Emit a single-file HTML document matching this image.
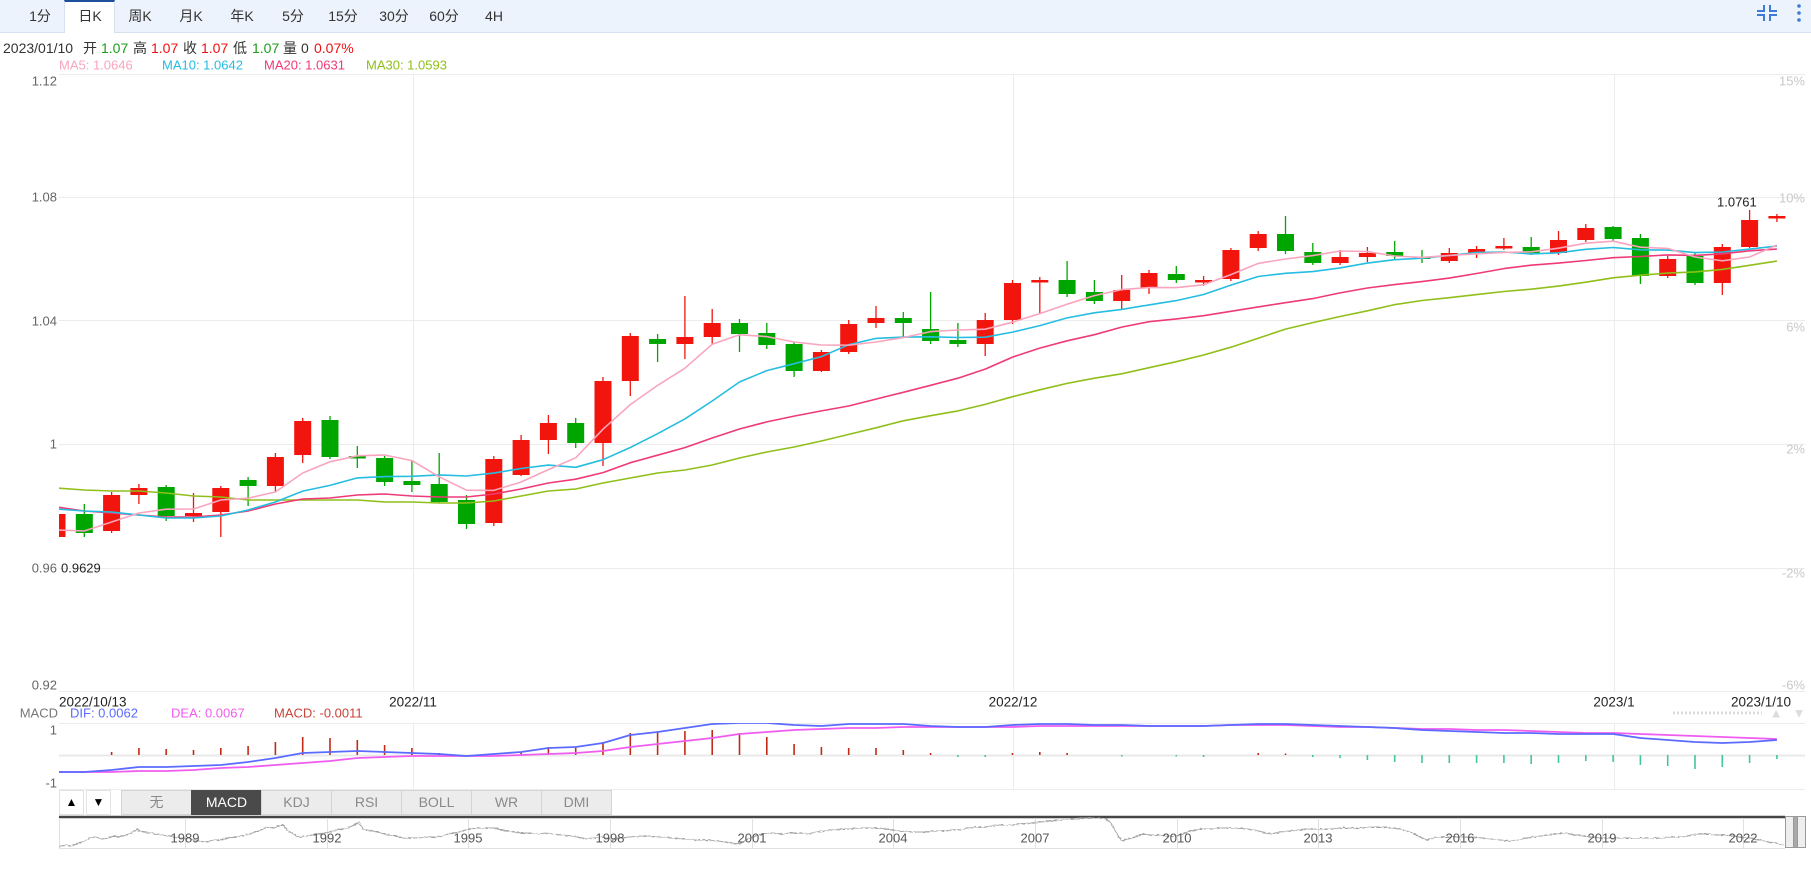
<!DOCTYPE html>
<html><head><meta charset="utf-8">
<style>
html,body{margin:0;padding:0;background:#fff;}
body{width:1811px;height:883px;position:relative;overflow:hidden;font-family:"Liberation Sans","Noto Sans CJK SC",sans-serif;}
.bar{position:absolute;left:0;top:0;width:1811px;height:32px;background:#edf3fc;border-bottom:1px solid #d6e0ef;}
.tab{position:absolute;top:0;height:32px;line-height:32px;font-size:14px;color:#333;transform:translateX(-50%);white-space:nowrap;}
.act{position:absolute;left:64px;top:0;width:49px;height:31px;background:#fff;border-top:2px solid #1c4f9c;border-left:1px solid #d6e0ef;border-right:1px solid #d6e0ef;}
.btn{position:absolute;top:790px;height:23px;line-height:23px;text-align:center;font-size:12px;border:1px solid #e2e2e2;background:#fff;color:#000;}
.ind{position:absolute;top:790px;height:23px;line-height:23px;width:69px;text-align:center;font-size:14px;color:#8a8a8a;background:#ececec;border:1px solid #d4d4d4;box-sizing:content-box;}
</style></head>
<body>
<div class="bar"></div>
<div class="act"></div>
<span class="tab" style="left:40px">1分</span>
<span class="tab" style="left:90px">日K</span>
<span class="tab" style="left:140px">周K</span>
<span class="tab" style="left:191px">月K</span>
<span class="tab" style="left:242px">年K</span>
<span class="tab" style="left:293px">5分</span>
<span class="tab" style="left:343px">15分</span>
<span class="tab" style="left:394px">30分</span>
<span class="tab" style="left:444px">60分</span>
<span class="tab" style="left:494px">4H</span>

<div class="btn" style="left:59px;width:23px;">▲</div>
<div class="btn" style="left:86px;width:23px;">▼</div>
<div class="ind" style="left:121px">无</div>
<div class="ind" style="left:191px;background:#4a4a4a;color:#fff;border-color:#4a4a4a">MACD</div>
<div class="ind" style="left:261px">KDJ</div>
<div class="ind" style="left:331px">RSI</div>
<div class="ind" style="left:401px">BOLL</div>
<div class="ind" style="left:471px">WR</div>
<div class="ind" style="left:541px">DMI</div>

<svg width="1811" height="883" style="position:absolute;left:0;top:0" xmlns="http://www.w3.org/2000/svg" font-family="Liberation Sans, Noto Sans CJK SC, sans-serif">
<defs>
<clipPath id="cp"><rect x="59" y="74" width="1746" height="617"/></clipPath>
<clipPath id="cm"><rect x="59" y="723" width="1746" height="66"/></clipPath>
<filter id="jit" x="-1%" y="-50%" width="102%" height="200%"><feTurbulence type="fractalNoise" baseFrequency="0.35 0.9" numOctaves="1" seed="3"/><feDisplacementMap in="SourceGraphic" scale="3" xChannelSelector="R" yChannelSelector="G"/></filter>
</defs>

<!-- top-right icons -->
<g stroke="#3d7bd6" stroke-width="2" fill="none">
<path d="M1764,5 V11 H1757"/><path d="M1770,5 V11 H1777"/><path d="M1757,15 H1764 V21"/><path d="M1777,15 H1770 V21"/>
</g>
<g fill="#3d7bd6"><circle cx="1799" cy="6" r="1.8"/><circle cx="1799" cy="13" r="1.8"/><circle cx="1799" cy="20" r="1.8"/></g>

<!-- info line -->
<g font-size="14" dominant-baseline="central">
<text x="3" y="48" fill="#333">2023/01/10</text>
<text x="83" y="48" fill="#333">开</text>
<text x="101" y="48" fill="#1a9e1a">1.07</text>
<text x="133" y="48" fill="#333">高</text>
<text x="151" y="48" fill="#ee1111">1.07</text>
<text x="183" y="48" fill="#333">收</text>
<text x="201" y="48" fill="#ee1111">1.07</text>
<text x="233" y="48" fill="#333">低</text>
<text x="252" y="48" fill="#1a9e1a">1.07</text>
<text x="283" y="48" fill="#333">量</text>
<text x="301" y="48" fill="#333">0</text>
<text x="314" y="48" fill="#ee1111">0.07%</text>
</g>
<g font-size="13" dominant-baseline="central">
<text x="59" y="65" fill="#f8a5bd">MA5: 1.0646</text>
<text x="162" y="65" fill="#25bde0">MA10: 1.0642</text>
<text x="264" y="65" fill="#ee3a78">MA20: 1.0631</text>
<text x="366" y="65" fill="#90bf1a">MA30: 1.0593</text>
</g>

<!-- grid -->
<g stroke="#ececec" stroke-width="1">
<line x1="59" y1="74.5" x2="1805" y2="74.5"/>
<line x1="59" y1="197.5" x2="1805" y2="197.5"/>
<line x1="59" y1="320.5" x2="1805" y2="320.5"/>
<line x1="59" y1="444.5" x2="1805" y2="444.5"/>
<line x1="59" y1="568.5" x2="1805" y2="568.5"/>
<line x1="59" y1="691.5" x2="1805" y2="691.5"/>
<line x1="413.5" y1="74" x2="413.5" y2="691"/>
<line x1="1013.5" y1="74" x2="1013.5" y2="691"/>
<line x1="1614.5" y1="74" x2="1614.5" y2="691"/>
<line x1="413.5" y1="723" x2="413.5" y2="789"/>
<line x1="1013.5" y1="723" x2="1013.5" y2="789"/>
<line x1="1614.5" y1="723" x2="1614.5" y2="789"/>
<line x1="59" y1="723.5" x2="1805" y2="723.5"/>
<line x1="59" y1="789.5" x2="1805" y2="789.5"/>
</g>
<line x1="59" y1="755.5" x2="1805" y2="755.5" stroke="#e9e9e9" stroke-width="2"/>

<!-- axis labels -->
<g font-size="13" fill="#666" text-anchor="end" dominant-baseline="central">
<text x="57" y="81">1.12</text>
<text x="57" y="197">1.08</text>
<text x="57" y="321">1.04</text>
<text x="57" y="444">1</text>
<text x="57" y="568">0.96</text>
<text x="57" y="685">0.92</text>
<text x="57" y="730">1</text>
<text x="57" y="783">-1</text>
</g>
<g font-size="13" fill="#c8c8c8" text-anchor="end" dominant-baseline="central">
<text x="1805" y="81">15%</text>
<text x="1805" y="198">10%</text>
<text x="1805" y="327">6%</text>
<text x="1805" y="449">2%</text>
<text x="1805" y="573">-2%</text>
<text x="1805" y="685">-6%</text>
</g>
<g font-size="13.5" fill="#222" dominant-baseline="central">
<text x="59" y="702">2022/10/13</text>
<text x="413" y="702" text-anchor="middle">2022/11</text>
<text x="1013" y="702" text-anchor="middle">2022/12</text>
<text x="1614" y="702" text-anchor="middle">2023/1</text>
<text x="1791" y="702" text-anchor="end">2023/1/10</text>
</g>
<g font-size="13" dominant-baseline="central">
<text x="58" y="713" fill="#777" text-anchor="end">MACD</text>
<text x="70" y="713" fill="#5b6bff">DIF: 0.0062</text>
<text x="171" y="713" fill="#f05cf0">DEA: 0.0067</text>
<text x="274" y="713" fill="#c8433a">MACD: -0.0011</text>
</g>
<line x1="1673" y1="713" x2="1762" y2="713" stroke="#dcdcdc" stroke-width="3" stroke-dasharray="2 2"/>
<text x="1776" y="713" font-size="13" fill="#dcdcdc" text-anchor="middle" dominant-baseline="central">▲</text>
<text x="1799" y="713" font-size="13" fill="#dcdcdc" text-anchor="middle" dominant-baseline="central">▼</text>

<g clip-path="url(#cp)">
<!-- red candles -->
<g fill="#f2150d" stroke="#f2150d">
<g stroke-width="1.3">
<line x1="57" y1="512" x2="57" y2="538"/><line x1="111.6" y1="492" x2="111.6" y2="533"/><line x1="138.9" y1="484" x2="138.9" y2="504"/><line x1="193.5" y1="493" x2="193.5" y2="522"/><line x1="220.8" y1="486" x2="220.8" y2="537"/><line x1="275.4" y1="453" x2="275.4" y2="492"/><line x1="302.7" y1="418" x2="302.7" y2="463"/><line x1="493.8" y1="456" x2="493.8" y2="526"/><line x1="521.1" y1="435" x2="521.1" y2="476"/><line x1="548.4" y1="415" x2="548.4" y2="454"/><line x1="603" y1="377" x2="603" y2="466"/><line x1="630.3" y1="333" x2="630.3" y2="396"/><line x1="684.9" y1="296" x2="684.9" y2="359"/><line x1="712.2" y1="309" x2="712.2" y2="344"/><line x1="821.4" y1="350" x2="821.4" y2="372"/><line x1="848.7" y1="320" x2="848.7" y2="354"/><line x1="876" y1="306" x2="876" y2="328"/><line x1="985.2" y1="313" x2="985.2" y2="356"/><line x1="1012.5" y1="280" x2="1012.5" y2="324"/><line x1="1039.8" y1="277" x2="1039.8" y2="313"/><line x1="1121.7" y1="275" x2="1121.7" y2="309"/><line x1="1149" y1="270" x2="1149" y2="294"/><line x1="1203.6" y1="276" x2="1203.6" y2="286"/><line x1="1230.9" y1="248" x2="1230.9" y2="281"/><line x1="1258.2" y1="231" x2="1258.2" y2="251"/><line x1="1340.1" y1="250" x2="1340.1" y2="265"/><line x1="1367.4" y1="247" x2="1367.4" y2="262"/><line x1="1449.3" y1="248" x2="1449.3" y2="263"/><line x1="1476.6" y1="246" x2="1476.6" y2="258"/><line x1="1503.9" y1="238" x2="1503.9" y2="250"/><line x1="1558.5" y1="231" x2="1558.5" y2="255"/><line x1="1585.8" y1="224" x2="1585.8" y2="242"/><line x1="1667.7" y1="256" x2="1667.7" y2="278"/><line x1="1722.3" y1="244" x2="1722.3" y2="295"/><line x1="1749.6" y1="210" x2="1749.6" y2="248"/><line x1="1776.9" y1="214" x2="1776.9" y2="222"/>
</g>
<g stroke="none">
<rect x="48.5" y="514" width="17" height="23"/><rect x="103.1" y="495" width="17" height="36"/><rect x="130.4" y="488" width="17" height="7"/><rect x="185" y="513" width="17" height="3"/><rect x="212.3" y="488" width="17" height="24"/><rect x="266.9" y="457" width="17" height="29"/><rect x="294.2" y="421" width="17" height="34"/><rect x="485.3" y="459" width="17" height="64"/><rect x="512.6" y="440" width="17" height="35"/><rect x="539.9" y="423" width="17" height="17"/><rect x="594.5" y="381" width="17" height="62"/><rect x="621.8" y="336" width="17" height="45"/><rect x="676.4" y="337" width="17" height="7"/><rect x="703.7" y="323" width="17" height="14"/><rect x="812.9" y="352" width="17" height="19"/><rect x="840.2" y="324" width="17" height="28"/><rect x="867.5" y="318" width="17" height="5"/><rect x="976.7" y="320" width="17" height="24"/><rect x="1004" y="283" width="17" height="37"/><rect x="1031.3" y="280" width="17" height="2.5"/><rect x="1113.2" y="290" width="17" height="11"/><rect x="1140.5" y="273" width="17" height="15"/><rect x="1195.1" y="280" width="17" height="2.5"/><rect x="1222.4" y="250" width="17" height="29"/><rect x="1249.7" y="234" width="17" height="14"/><rect x="1331.6" y="257" width="17" height="6"/><rect x="1358.9" y="253" width="17" height="4"/><rect x="1440.8" y="253" width="17" height="8"/><rect x="1468.1" y="249" width="17" height="4"/><rect x="1495.4" y="246" width="17" height="2.5"/><rect x="1550" y="240" width="17" height="13"/><rect x="1577.3" y="228" width="17" height="12"/><rect x="1659.2" y="259" width="17" height="17"/><rect x="1713.8" y="247" width="17" height="36"/><rect x="1741.1" y="220" width="17" height="27"/><rect x="1768.4" y="216" width="17" height="2.5"/>
</g>
</g>
<!-- green candles -->
<g fill="#00a600" stroke="#00a600">
<g stroke-width="1.3">
<line x1="84.3" y1="504" x2="84.3" y2="537"/><line x1="166.2" y1="485" x2="166.2" y2="521"/><line x1="248.1" y1="477" x2="248.1" y2="506"/><line x1="330" y1="416" x2="330" y2="459"/><line x1="357.3" y1="446" x2="357.3" y2="468"/><line x1="384.6" y1="456" x2="384.6" y2="486"/><line x1="411.9" y1="460" x2="411.9" y2="492"/><line x1="439.2" y1="453" x2="439.2" y2="503"/><line x1="466.5" y1="495" x2="466.5" y2="529"/><line x1="575.7" y1="418" x2="575.7" y2="448"/><line x1="657.6" y1="334" x2="657.6" y2="362"/><line x1="739.5" y1="319" x2="739.5" y2="352"/><line x1="766.8" y1="323" x2="766.8" y2="349"/><line x1="794.1" y1="342" x2="794.1" y2="377"/><line x1="903.3" y1="312" x2="903.3" y2="337"/><line x1="930.6" y1="292" x2="930.6" y2="344"/><line x1="957.9" y1="323" x2="957.9" y2="347"/><line x1="1067.1" y1="261" x2="1067.1" y2="297"/><line x1="1094.4" y1="280" x2="1094.4" y2="304"/><line x1="1176.3" y1="266" x2="1176.3" y2="283"/><line x1="1285.5" y1="216" x2="1285.5" y2="254"/><line x1="1312.8" y1="243" x2="1312.8" y2="265"/><line x1="1394.7" y1="241" x2="1394.7" y2="260"/><line x1="1422" y1="250" x2="1422" y2="263"/><line x1="1531.2" y1="237" x2="1531.2" y2="255"/><line x1="1613.1" y1="226" x2="1613.1" y2="242"/><line x1="1640.4" y1="234" x2="1640.4" y2="284"/><line x1="1695" y1="252" x2="1695" y2="285"/>
</g>
<g stroke="none">
<rect x="75.8" y="514" width="17" height="19"/><rect x="157.7" y="487" width="17" height="29"/><rect x="239.6" y="480" width="17" height="6"/><rect x="321.5" y="420" width="17" height="37"/><rect x="348.8" y="456" width="17" height="2.5"/><rect x="376.1" y="458" width="17" height="24"/><rect x="403.4" y="481" width="17" height="4"/><rect x="430.7" y="484" width="17" height="18"/><rect x="458" y="500" width="17" height="24"/><rect x="567.2" y="423" width="17" height="20"/><rect x="649.1" y="339" width="17" height="5"/><rect x="731" y="323" width="17" height="11"/><rect x="758.3" y="333" width="17" height="12"/><rect x="785.6" y="344" width="17" height="27"/><rect x="894.8" y="318" width="17" height="5"/><rect x="922.1" y="329" width="17" height="12"/><rect x="949.4" y="340" width="17" height="4"/><rect x="1058.6" y="280" width="17" height="14"/><rect x="1085.9" y="292" width="17" height="9"/><rect x="1167.8" y="274" width="17" height="6"/><rect x="1277" y="234" width="17" height="17"/><rect x="1304.3" y="252" width="17" height="11"/><rect x="1386.2" y="252" width="17" height="4"/><rect x="1413.5" y="257" width="17" height="2"/><rect x="1522.7" y="247" width="17" height="6"/><rect x="1604.6" y="227" width="17" height="12"/><rect x="1631.9" y="238" width="17" height="38"/><rect x="1686.5" y="256" width="17" height="27"/>
</g>
</g>
<!-- MA lines -->
<g fill="none" stroke-width="1.6" stroke-linejoin="round">
<polyline stroke="#90bf1a" points="57,488 84.3,490 111.6,491 138.9,491 166.2,493 193.5,496 220.8,497 248.1,500 275.4,500 302.7,500 330,500 357.3,500 384.6,502 411.9,502 439.2,503 466.5,503 493.8,501 521.1,496 548.4,491 575.7,489 603,483 630.3,478 657.6,473 684.9,470 712.2,465 739.5,458 766.8,452 794.1,447 821.4,441 848.7,434.4 876,427.8 903.3,420.8 930.6,415.7 957.9,410.9 985.2,404.4 1012.5,396.7 1039.8,389.8 1067.1,383.4 1094.4,378.2 1121.7,373.8 1149,367.7 1176.3,361.7 1203.6,355 1230.9,347.2 1258.2,338.2 1285.5,329.1 1312.8,322.6 1340.1,316.5 1367.4,310.8 1394.7,304.6 1422,300.5 1449.3,297.7 1476.6,294.6 1503.9,291.5 1531.2,289.2 1558.5,286.1 1585.8,282.2 1613.1,277.8 1640.4,275.2 1667.7,273.1 1695,271.9 1722.3,269.4 1749.6,265.3 1776.9,261.1"/>
<polyline stroke="#ee3a78" points="57,507 84.3,511 111.6,513 138.9,515 166.2,517 193.5,517 220.8,515 248.1,511 275.4,504 302.7,499 330,498 357.3,495 384.6,494 411.9,496 439.2,497 466.5,497 493.8,494 521.1,489 548.4,483 575.7,479.2 603,472.6 630.3,462.7 657.6,455.2 684.9,447.6 712.2,438 739.5,429 766.8,421.9 794.1,416.1 821.4,410.9 848.7,406 876,399.1 903.3,392.3 930.6,385.3 957.9,378.2 985.2,369.1 1012.5,357.1 1039.8,348.1 1067.1,340.8 1094.4,334.7 1121.7,327.1 1149,321.7 1176.3,318.9 1203.6,315.7 1230.9,311.3 1258.2,306.9 1285.5,302.7 1312.8,298.6 1340.1,292.9 1367.4,288 1394.7,284.6 1422,281.6 1449.3,278.1 1476.6,273.5 1503.9,268.6 1531.2,265.2 1558.5,263.1 1585.8,260.5 1613.1,257.7 1640.4,256.5 1667.7,254.9 1695,255.4 1722.3,253.8 1749.6,250.8 1776.9,249.1"/>
<polyline stroke="#25bde0" points="57,509 84.3,511 111.6,512 138.9,515 166.2,518 193.5,518 220.8,516 248.1,510 275.4,502 302.7,491.1 330,485.4 357.3,477.9 384.6,476.6 411.9,476.3 439.2,474.9 466.5,476 493.8,473.1 521.1,468.5 548.4,465.1 575.7,467.3 603,459.7 630.3,447.5 657.6,433.7 684.9,418.9 712.2,401 739.5,382 766.8,370.6 794.1,363.7 821.4,356.6 848.7,344.7 876,338.4 903.3,337.1 930.6,336.8 957.9,337.5 985.2,337.2 1012.5,332.1 1039.8,325.6 1067.1,317.9 1094.4,312.8 1121.7,309.4 1149,304.9 1176.3,300.6 1203.6,294.5 1230.9,285.1 1258.2,276.5 1285.5,273.3 1312.8,271.6 1340.1,267.9 1367.4,263.1 1394.7,259.7 1422,258.2 1449.3,255.5 1476.6,252.4 1503.9,252 1531.2,253.9 1558.5,252.8 1585.8,249.3 1613.1,247.5 1640.4,249.8 1667.7,250.1 1695,252.6 1722.3,252 1749.6,249.1 1776.9,246.1"/>
<polyline stroke="#f8a5bd" points="57,530 84.3,531 111.6,522 138.9,513 166.2,509.2 193.5,509 220.8,500 248.1,498.2 275.4,492 302.7,473 330,461.8 357.3,455.8 384.6,455 411.9,460.6 439.2,476.8 466.5,490.2 493.8,490.4 521.1,482 548.4,469.6 575.7,457.8 603,429.2 630.3,404.6 657.6,385.4 684.9,368.2 712.2,344.2 739.5,334.8 766.8,336.6 794.1,342 821.4,345 848.7,345.2 876,342 903.3,337.6 930.6,331.6 957.9,330 985.2,329.2 1012.5,322.2 1039.8,313.6 1067.1,304.2 1094.4,295.6 1121.7,289.6 1149,287.6 1176.3,287.6 1203.6,284.8 1230.9,274.6 1258.2,263.4 1285.5,259 1312.8,255.6 1340.1,251 1367.4,251.6 1394.7,256 1422,257.4 1449.3,255.4 1476.6,253.8 1503.9,252.4 1531.2,251.8 1558.5,248.2 1585.8,243.2 1613.1,241.2 1640.4,247.2 1667.7,248.4 1695,257 1722.3,260.8 1749.6,257 1776.9,245"/>
</g>
</g>
<text x="61" y="568" font-size="13" fill="#222" dominant-baseline="central">0.9629</text>
<text x="1717" y="202" font-size="13" fill="#222" dominant-baseline="central">1.0761</text>

<!-- MACD pane -->
<g clip-path="url(#cm)">
<g stroke="#c22a17" stroke-width="1.6">
<line x1="111.6" y1="755" x2="111.6" y2="752"/><line x1="138.9" y1="755" x2="138.9" y2="748"/><line x1="166.2" y1="755" x2="166.2" y2="749"/><line x1="193.5" y1="755" x2="193.5" y2="750"/><line x1="220.8" y1="755" x2="220.8" y2="748"/><line x1="248.1" y1="755" x2="248.1" y2="746"/><line x1="275.4" y1="755" x2="275.4" y2="742"/><line x1="302.7" y1="755" x2="302.7" y2="737"/><line x1="330" y1="755" x2="330" y2="738"/><line x1="357.3" y1="755" x2="357.3" y2="740"/><line x1="384.6" y1="755" x2="384.6" y2="745"/><line x1="411.9" y1="755" x2="411.9" y2="748"/><line x1="439.2" y1="755" x2="439.2" y2="753"/><line x1="521.1" y1="755" x2="521.1" y2="752"/><line x1="548.4" y1="755" x2="548.4" y2="747"/><line x1="575.7" y1="755" x2="575.7" y2="747"/><line x1="603" y1="755" x2="603" y2="742"/><line x1="630.3" y1="755" x2="630.3" y2="733"/><line x1="657.6" y1="755" x2="657.6" y2="732"/><line x1="684.9" y1="755" x2="684.9" y2="731"/><line x1="712.2" y1="755" x2="712.2" y2="730"/><line x1="739.5" y1="755" x2="739.5" y2="733"/><line x1="766.8" y1="755" x2="766.8" y2="737"/><line x1="794.1" y1="755" x2="794.1" y2="744"/><line x1="821.4" y1="755" x2="821.4" y2="747"/><line x1="848.7" y1="755" x2="848.7" y2="748"/><line x1="876" y1="755" x2="876" y2="748"/><line x1="903.3" y1="755" x2="903.3" y2="750"/><line x1="930.6" y1="755" x2="930.6" y2="753"/><line x1="1012.5" y1="755" x2="1012.5" y2="753"/><line x1="1039.8" y1="755" x2="1039.8" y2="752"/><line x1="1067.1" y1="755" x2="1067.1" y2="753"/><line x1="1258.2" y1="755" x2="1258.2" y2="753"/><line x1="1285.5" y1="755" x2="1285.5" y2="753.5"/>
</g>
<g stroke="#45c59b" stroke-width="1.6">
<line x1="466.5" y1="755" x2="466.5" y2="757"/><line x1="957.9" y1="755" x2="957.9" y2="757"/><line x1="985.2" y1="755" x2="985.2" y2="757"/><line x1="1121.7" y1="755" x2="1121.7" y2="756.5"/><line x1="1176.3" y1="755" x2="1176.3" y2="756.5"/><line x1="1203.6" y1="755" x2="1203.6" y2="757"/><line x1="1312.8" y1="755" x2="1312.8" y2="757"/><line x1="1340.1" y1="755" x2="1340.1" y2="758"/><line x1="1367.4" y1="755" x2="1367.4" y2="760"/><line x1="1394.7" y1="755" x2="1394.7" y2="762"/><line x1="1422" y1="755" x2="1422" y2="763"/><line x1="1449.3" y1="755" x2="1449.3" y2="763"/><line x1="1476.6" y1="755" x2="1476.6" y2="763"/><line x1="1503.9" y1="755" x2="1503.9" y2="763"/><line x1="1531.2" y1="755" x2="1531.2" y2="764"/><line x1="1558.5" y1="755" x2="1558.5" y2="763"/><line x1="1585.8" y1="755" x2="1585.8" y2="761"/><line x1="1613.1" y1="755" x2="1613.1" y2="762"/><line x1="1640.4" y1="755" x2="1640.4" y2="765"/><line x1="1667.7" y1="755" x2="1667.7" y2="766"/><line x1="1695" y1="755" x2="1695" y2="769"/><line x1="1722.3" y1="755" x2="1722.3" y2="767"/><line x1="1749.6" y1="755" x2="1749.6" y2="763"/><line x1="1776.9" y1="755" x2="1776.9" y2="759"/>
</g>
<g fill="none" stroke-width="1.8" stroke-linejoin="round">
<polyline stroke="#f05cf0" points="57,772 84.3,772 111.6,772 138.9,771 166.2,771 193.5,770 220.8,768 248.1,767 275.4,765 302.7,763 330,761 357.3,758 384.6,757 411.9,756 439.2,756 466.5,756 493.8,756 521.1,755 548.4,754 575.7,753 603,751 630.3,747 657.6,744 684.9,741 712.2,738 739.5,734 766.8,732 794.1,730 821.4,729 848.7,728 876,728 903.3,727 930.6,727 957.9,727 985.2,727 1012.5,727 1039.8,726 1067.1,726 1094.4,726 1121.7,726 1149,726 1176.3,726 1203.6,726 1230.9,725 1258.2,725 1285.5,725 1312.8,726 1340.1,727 1367.4,727 1394.7,728 1422,729 1449.3,729 1476.6,730 1503.9,730 1531.2,731 1558.5,732 1585.8,733 1613.1,733 1640.4,734 1667.7,735 1695,736 1722.3,737 1749.6,738 1776.9,739"/>
<polyline stroke="#5b6bff" points="57,772 84.3,772 111.6,770 138.9,767 166.2,767 193.5,766 220.8,765 248.1,762 275.4,758 302.7,753 330,752 357.3,751 384.6,752 411.9,753 439.2,754 466.5,756 493.8,754 521.1,752 548.4,748 575.7,747 603,743 630.3,735 657.6,732 684.9,728 712.2,724 739.5,723 766.8,723 794.1,725 821.4,726 848.7,724 876,724 903.3,724 930.6,726 957.9,727 985.2,727 1012.5,725 1039.8,724 1067.1,724 1094.4,725 1121.7,725 1149,726 1176.3,726 1203.6,726 1230.9,725 1258.2,724 1285.5,724 1312.8,725 1340.1,726 1367.4,727 1394.7,728 1422,730 1449.3,731 1476.6,732 1503.9,733 1531.2,733 1558.5,734 1585.8,734 1613.1,734 1640.4,738 1667.7,740 1695,742 1722.3,743 1749.6,742 1776.9,740"/>
</g>
</g>

<!-- navigator -->
<line x1="59" y1="817" x2="1785" y2="817" stroke="#454545" stroke-width="2.5"/>
<g stroke="#e0e0e0" stroke-width="1">
<line x1="59.5" y1="818" x2="59.5" y2="848"/>
<line x1="59" y1="848.5" x2="1785" y2="848.5"/>
<line x1="185.5" y1="818" x2="185.5" y2="848"/><line x1="327.5" y1="818" x2="327.5" y2="848"/><line x1="468.5" y1="818" x2="468.5" y2="848"/><line x1="610.5" y1="818" x2="610.5" y2="848"/><line x1="752.5" y1="818" x2="752.5" y2="848"/><line x1="893.5" y1="818" x2="893.5" y2="848"/><line x1="1035.5" y1="818" x2="1035.5" y2="848"/><line x1="1177.5" y1="818" x2="1177.5" y2="848"/><line x1="1318.5" y1="818" x2="1318.5" y2="848"/><line x1="1460.5" y1="818" x2="1460.5" y2="848"/><line x1="1602.5" y1="818" x2="1602.5" y2="848"/><line x1="1743.5" y1="818" x2="1743.5" y2="848"/>
</g>
<polyline fill="none" stroke="#a4a4a4" stroke-width="1.1" filter="url(#jit)" points="59,847 66,845 72,846 78,843 85,841 90,838 96,837 102,839 108,838 114,836 119,837 125,835 130,834 134,831 137,829 140,831 144,832 150,833 156,834 162,835 168,836 175,837 182,838 190,839 198,841 206,842 213,840 220,840 228,838 237,837 245,835 252,833 259,831 265,828 270,827 274,828 278,826 282,825 285,827 288,831 292,833 296,836 300,837 306,836 312,835 318,834 324,833 330,832 336,830 342,829 348,828 352,826 356,824 359,822 361,826 364,830 368,830 372,831 378,832 384,834 390,835 396,836 403,838 410,838 418,838 426,837 435,837 442,836 448,834 455,833 462,831 470,829 478,828 486,828 494,828 502,830 508,831 514,832 522,833 530,833 538,834 546,833 554,834 562,835 570,836 578,837 585,839 593,838 601,837 607,838 612,840 620,838 630,837 640,836 647,836 660,837 672,838 684,839 696,840 708,840 716,841 726,842 732,843 739,844 744,841 750,838 756,836 762,834 772,833 782,834 790,833 800,833 808,834 816,832 824,831 832,830 842,829 850,829 860,828 870,828 878,828 886,829 892,830 900,831 910,832 918,832 924,832 934,831 945,831 952,830 959,830 968,828 976,827 984,827 992,826 1000,825 1010,825 1020,824 1030,823 1040,822 1050,821 1060,820 1068,819 1076,819 1084,818 1092,818 1100,818 1106,819 1110,822 1114,828 1118,836 1122,841 1127,839 1132,838 1138,836 1143,834 1150,835 1158,835 1166,836 1176,836 1183,834 1190,831 1196,830 1201,829 1210,829 1218,828 1226,828 1236,828 1247,829 1255,830 1262,832 1271,834 1280,832 1290,831 1300,830 1310,829 1320,829 1330,829 1340,828 1350,828 1360,828 1372,827 1383,827 1392,828 1400,829 1406,831 1413,833 1420,837 1427,840 1433,838 1440,837 1450,837 1460,837 1473,837 1482,838 1490,839 1500,840 1510,841 1518,840 1526,838 1534,837 1540,836 1548,835 1556,834 1563,833 1570,834 1576,835 1583,836 1592,837 1600,838 1610,838 1620,838 1630,838 1640,838 1650,838 1663,838 1670,837 1677,837 1686,836 1693,835 1700,834 1710,834 1716,835 1723,835 1732,836 1740,837 1750,838 1760,840 1768,842 1776,843 1783,845"/>
<g font-size="13" fill="#555" text-anchor="middle" dominant-baseline="central">
<text x="185" y="838">1989</text><text x="327" y="838">1992</text><text x="468" y="838">1995</text><text x="610" y="838">1998</text><text x="752" y="838">2001</text><text x="893" y="838">2004</text><text x="1035" y="838">2007</text><text x="1177" y="838">2010</text><text x="1318" y="838">2013</text><text x="1460" y="838">2016</text><text x="1602" y="838">2019</text><text x="1743" y="838">2022</text>
</g>
<rect x="1785.5" y="816.5" width="8" height="31" fill="#eeeeee" stroke="#9a9a9a"/>
<rect x="1793.5" y="816.5" width="4" height="31" fill="#a8a8a8" stroke="#9a9a9a"/>
<rect x="1797.5" y="816.5" width="8" height="31" fill="#eeeeee" stroke="#9a9a9a"/>
</svg>
</body></html>
